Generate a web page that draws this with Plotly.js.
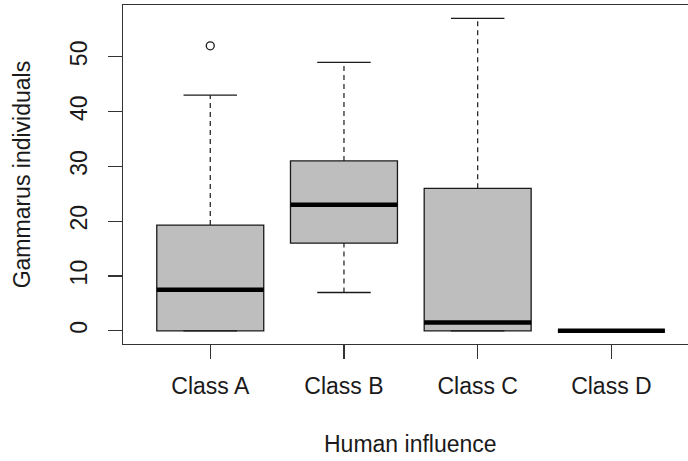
<!DOCTYPE html>
<html>
<head>
<meta charset="utf-8">
<script src="https://cdn.plot.ly/plotly-3.0.1.min.js"></script>
<style>
  html, body { margin: 0; padding: 0; background: #ffffff; }
  #chart { width: 688px; height: 461px; }
</style>
</head>
<body>
<div id="chart"></div>
<script>
// Gammarus counts per human-influence class: five-number summaries
const categories = ["Class A", "Class B", "Class C", "Class D"];
const positions  = [1, 2, 3, 4];
const lowerWhisker = [0, 7, 0, 0];
const q1           = [0, 16, 0, 0];
const medians      = [7.5, 23, 1.5, 0];
const q3           = [19.3, 31, 26, 0];
const upperWhisker = [43, 49, 57, 0];
// points beyond the whiskers
const outlierClass = [1];
const outlierValue = [52];
const yTicks = [0, 10, 20, 30, 40, 50];

const BOX_W = 0.8;     // box width in category units
const CAP_W = 0.4;     // staple width
const INK = "#1a1a1a";
const FONT = "Liberation Sans, Arial, sans-serif";

// segments joined with null gaps so each trace draws many separate pieces
function segs(build) {
  const xs = [], ys = [];
  positions.forEach((p, i) => {
    build(p, i).forEach(([x0, y0, x1, y1]) => { xs.push(x0, x1, null); ys.push(y0, y1, null); });
  });
  return { x: xs, y: ys };
}

const whiskers = segs((p, i) => [[p, q3[i], p, upperWhisker[i]], [p, lowerWhisker[i], p, q1[i]]]);
const caps = segs((p, i) => [
  [p - CAP_W / 2, upperWhisker[i], p + CAP_W / 2, upperWhisker[i]],
  [p - CAP_W / 2, lowerWhisker[i], p + CAP_W / 2, lowerWhisker[i]]
]);
const medianBars = segs((p, i) => [[p - BOX_W / 2, medians[i], p + BOX_W / 2, medians[i]]]);

const traces = [
  {
    type: "scatter", mode: "lines", x: whiskers.x, y: whiskers.y,
    line: { color: INK, width: 1.2, dash: "5px,4px" }, hoverinfo: "skip", showlegend: false
  },
  {
    type: "scatter", mode: "lines", x: caps.x, y: caps.y,
    line: { color: INK, width: 1.3 }, hoverinfo: "skip", showlegend: false
  },
  {
    type: "box", x: positions, q1: q1, median: medians, q3: q3,
    lowerfence: q1, upperfence: q3,
    width: BOX_W, whiskerwidth: 0, boxpoints: false,
    fillcolor: "#bebebe", line: { color: INK, width: 1.3 }, showlegend: false
  },
  {
    type: "scatter", mode: "lines", x: medianBars.x, y: medianBars.y,
    line: { color: "#000000", width: 4.5 }, hoverinfo: "skip", showlegend: false
  },
  {
    type: "scatter", mode: "markers", x: outlierClass, y: outlierValue,
    marker: { symbol: "circle-open", size: 8, color: INK, line: { width: 1.3, color: INK } },
    showlegend: false
  }
];

const layout = {
  width: 688, height: 461,
  margin: { l: 123, r: 0, t: 5, b: 117 },
  paper_bgcolor: "#ffffff", plot_bgcolor: "#ffffff",
  font: { family: FONT, size: 23, color: "#1a1a1a" },
  showlegend: false,
  xaxis: {
    range: [0.3474, 4.573],
    tickmode: "array", tickvals: positions, ticktext: categories,
    ticks: "outside", ticklen: 14, tickwidth: 1.2, tickcolor: "#333",
    showline: true, mirror: true, linecolor: "#333", linewidth: 1.2,
    showgrid: false, zeroline: false,
    tickfont: { family: FONT, size: 23, color: "#1a1a1a" },
    ticklabelstandoff: 7
  },
  yaxis: {
    range: [-2.4, 59.45],
    tickmode: "array", tickvals: yTicks, ticktext: yTicks.map(String),
    tickangle: -90,
    ticks: "outside", ticklen: 14, tickwidth: 1.2, tickcolor: "#333",
    showline: true, linecolor: "#333", linewidth: 1.2,
    showgrid: false, zeroline: false,
    tickfont: { family: FONT, size: 23, color: "#1a1a1a" },
    ticklabelstandoff: 12
  },
  annotations: [
    {
      text: "Human influence", xref: "x", x: 2.5, yref: "paper", y: -0.295,
      xanchor: "center", yanchor: "middle", showarrow: false,
      font: { family: FONT, size: 23, color: "#1a1a1a" }
    },
    {
      text: "Gammarus individuals", xref: "paper", x: -0.179, yref: "paper", y: 0.5,
      xanchor: "center", yanchor: "middle", textangle: -90, showarrow: false,
      font: { family: FONT, size: 23, color: "#1a1a1a" }
    }
  ]
};

Plotly.newPlot("chart", traces, layout, { staticPlot: true, displayModeBar: false });
</script>
</body>
</html>
